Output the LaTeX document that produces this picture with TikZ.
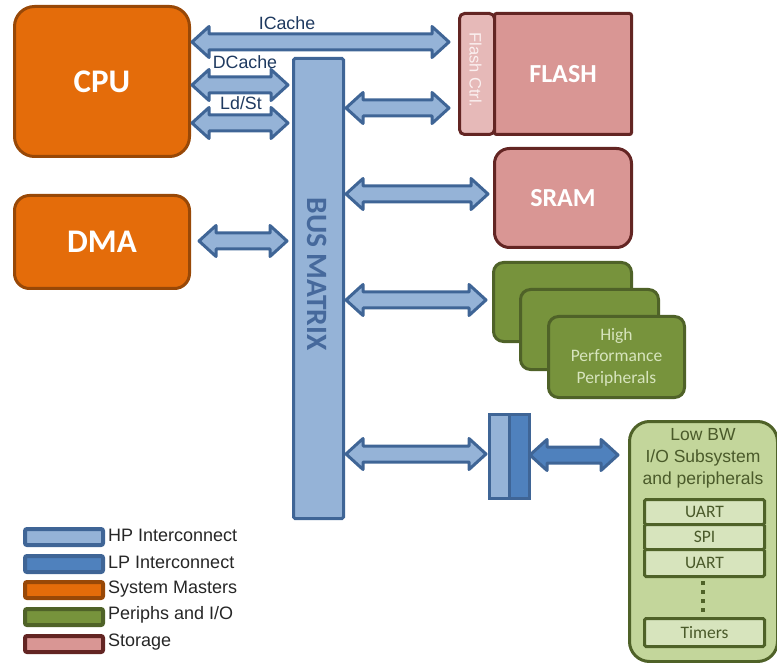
\documentclass[tikz,border=0pt]{standalone}
\usepackage{fontspec}
\setmainfont{Liberation Sans}
\newfontfamily\calib{Carlito}
\usetikzlibrary{calc}

\definecolor{orfill}{HTML}{E46C0A}
\definecolor{ordraw}{HTML}{984807}
\definecolor{hpfill}{HTML}{95B3D7}
\definecolor{hpdraw}{HTML}{3F6596}
\definecolor{lpfill}{HTML}{4F81BD}
\definecolor{stfill}{HTML}{D99694}
\definecolor{stdraw}{HTML}{632523}
\definecolor{fcfill}{HTML}{E6B9B8}
\definecolor{fctext}{HTML}{FBF0F0}
\definecolor{pgfill}{HTML}{77933C}
\definecolor{pgdraw}{HTML}{4F6228}
\definecolor{lgfill}{HTML}{C3D69B}
\definecolor{ugfill}{HTML}{D7E4BD}
\definecolor{lgtext}{HTML}{4A5A2A}
\definecolor{bustext}{HTML}{46699C}
\definecolor{lbltxt}{HTML}{1F3A60}
\definecolor{legtxt}{HTML}{262626}

% double-headed block arrow between two points on the same height
\newcommand\busarrow[3][]{%
  \draw[barrow,#1] let \p1=#2, \p2=#3 in
    (\x1,\y1) -- (\x1+17pt,\y1+15.5pt) -- (\x1+17pt,\y1+8pt)
    -- (\x2-17pt,\y1+8pt) -- (\x2-17pt,\y1+15.5pt) -- (\x2,\y1)
    -- (\x2-17pt,\y1-15.5pt) -- (\x2-17pt,\y1-8pt)
    -- (\x1+17pt,\y1-8pt) -- (\x1+17pt,\y1-15.5pt) -- cycle;}

\tikzset{
  box/.style={draw, line width=3pt, inner sep=0pt, anchor=north west, align=center},
  master/.style={box, fill=orfill, draw=ordraw, text=white,
    font=\calib\bfseries\fontsize{33}{36}\selectfont},
  store/.style={box, fill=stfill, draw=stdraw, text=white,
    font=\calib\bfseries\fontsize{26}{30}\selectfont},
  periph/.style={box, fill=pgfill, draw=pgdraw, rounded corners=10pt},
  iobox/.style={box, fill=ugfill, draw=pgdraw, rounded corners=1.5pt,
    minimum width=120, text=lgtext, font=\calib\fontsize{17.5}{20}\selectfont},
  hpbar/.style={box, fill=hpfill, draw=hpdraw, rounded corners=1.5pt},
  barrow/.style={fill=hpfill, draw=hpdraw, line width=3pt, line join=round},
  lbl/.style={text=lbltxt, font=\fontsize{17.8}{20}\selectfont, inner sep=0pt},
  swatch/.style={draw, line width=4pt, rounded corners=2pt, inner sep=0pt,
    minimum width=78, minimum height=16, anchor=north west},
  legtext/.style={anchor=west, text=legtxt, inner sep=0pt,
    font=\fontsize{18}{20}\selectfont},
}

\begin{document}
\begin{tikzpicture}[x=1pt, y=-1pt]
\useasboundingbox (0,0) rectangle (777,663);

% masters
\node[master, rounded corners=20pt, minimum width=175, minimum height=150] (cpu) at (13,5) {CPU};
\node[master, rounded corners=15pt, minimum width=175, minimum height=93] (dma) at (13,194) {DMA};

% bus matrix
\node[hpbar, minimum width=50, minimum height=460] (bus) at (292,57) {};
\node[rotate=-90, text=bustext, font=\calib\bfseries\fontsize{29.5}{32}\selectfont, inner sep=0pt]
  (bustxt) at (317,274) {BUS MATRIX};

% storage
\node[box, fill=fcfill, draw=stdraw, rounded corners=5pt, minimum width=35, minimum height=121] (fctrl) at (458,12) {};
\node[rotate=-90, text=fctext, font=\fontsize{16.5}{18}\selectfont, inner sep=0pt]
  (fctxt) at (475.5,70) {Flash Ctrl.};
\node[store, rounded corners=2pt, minimum width=137, minimum height=121] (flash) at (493,12) {FLASH};
\node[store, rounded corners=15pt, minimum width=137, minimum height=99] (sram) at (493,147) {SRAM};

% high performance peripherals
\node[periph, minimum width=138, minimum height=79] (hp1) at (492,261) {};
\node[periph, minimum width=138, minimum height=80] (hp2) at (519,288) {};
\node[periph, minimum width=136, minimum height=81, text=ugfill,
  font=\calib\fontsize{17.5}{21.5}\selectfont] (hp3) at (547,315)
  {High\\Performance\\Peripherals};

% bridge between the interconnects
\node[box, fill=hpfill, draw=hpdraw, minimum width=20, minimum height=84] (brl) at (488,413) {};
\node[box, fill=lpfill, draw=hpdraw, minimum width=20, minimum height=84] (brr) at (508,413) {};

% low bandwidth subsystem
\node[box, fill=lgfill, draw=pgdraw, rounded corners=20pt, minimum width=148, minimum height=240] (lbw) at (628,420) {};
\node[anchor=north, text=lgtext, align=center, inner sep=0pt,
  font=\fontsize{17.5}{22}\selectfont] (lbwtxt) at (703,428)
  {Low BW\\I/O Subsystem\\and peripherals};
\node[iobox, minimum height=25] (uart1) at (643,498) {UART};
\node[iobox, minimum height=25] (spi) at (643,523) {SPI};
\node[iobox, minimum height=27] (uart2) at (643,548) {UART};
\node[iobox, minimum height=28] (timers) at (643,617) {Timers};
\coordinate (dotA) at (703,581);
\coordinate (dotB) at (703,614);
\draw[pgdraw, line width=4pt, dash pattern=on 4pt off 5pt] (dotA) -- (dotB);

% connector end points
\coordinate (icL) at (192,42);   \coordinate (icR) at (449,42);
\coordinate (dcL) at (192,85);   \coordinate (dcR) at (288,85);
\coordinate (lsL) at (192,123);  \coordinate (lsR) at (288,123);
\coordinate (dmL) at (199,241);  \coordinate (dmR) at (287,241);
\coordinate (flL) at (346,108);  \coordinate (flR) at (449,108);
\coordinate (srL) at (346,194);  \coordinate (srR) at (488,194);
\coordinate (hpL) at (346,300);  \coordinate (hpR) at (486,300);
\coordinate (brL) at (346,454);  \coordinate (brR) at (486,454);
\coordinate (lpL) at (530,455);  \coordinate (lpR) at (618,455);

\busarrow{(icL)}{(icR)}
\busarrow{(dcL)}{(dcR)}
\busarrow{(lsL)}{(lsR)}
\busarrow{(dmL)}{(dmR)}
\busarrow{(flL)}{(flR)}
\busarrow{(srL)}{(srR)}
\busarrow{(hpL)}{(hpR)}
\busarrow{(brL)}{(brR)}
\busarrow[fill=lpfill]{(lpL)}{(lpR)}

\node[lbl] (iclbl) at (287,23) {ICache};
\node[lbl] (dclbl) at (245,62) {DCache};
\node[lbl] (lslbl) at (241,103) {Ld/St};

% legend
\node[swatch, fill=hpfill, draw=hpdraw] (k1) at (23,527) {};
\node[swatch, fill=lpfill, draw=hpdraw] (k2) at (23,554) {};
\node[swatch, fill=orfill, draw=ordraw] (k3) at (23,580) {};
\node[swatch, fill=pgfill, draw=pgdraw] (k4) at (23,607) {};
\node[swatch, fill=stfill, draw=stdraw] (k5) at (23,634) {};
\node[legtext] (t1) at (108,535) {HP Interconnect};
\node[legtext] (t2) at (108,562) {LP Interconnect};
\node[legtext] (t3) at (108,589) {System Masters};
\node[legtext] (t4) at (108,615) {Periphs and I/O};
\node[legtext] (t5) at (108,642) {Storage};
\end{tikzpicture}
\end{document}
